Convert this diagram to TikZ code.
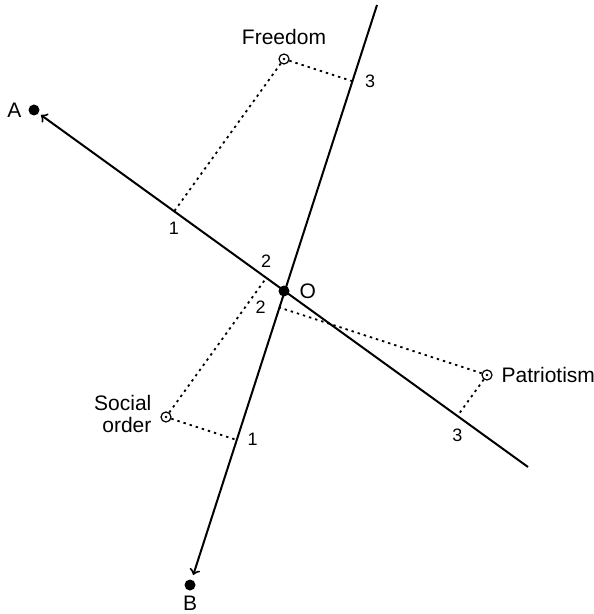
\documentclass[tikz,border=0pt]{standalone}
\usepackage{fontspec}
\setmainfont{Liberation Sans}
\usetikzlibrary{calc, positioning}

\begin{document}
\begin{tikzpicture}[x=0.5pt, y=-0.5pt, line width=1pt,
  font=\fontsize{10.5}{11}\selectfont,
  dot/.style={circle, fill, inner sep=0pt, minimum size=5.5pt},
  item/.style={circle, draw, line width=0.6pt, inner sep=0pt, minimum size=5pt,
    path picture={\fill (path picture bounding box.center) circle (0.7pt);}},
  lab/.style={inner sep=0pt},
  num/.style={inner sep=0pt, font=\fontsize{9}{10}\selectfont},
  proj/.style={line width=0.9pt, dash pattern=on 1.2pt off 2pt}]
  \useasboundingbox (0,0) rectangle (593,614);
  % axes
  \node[dot] (O) at (284,291) {};
  \node[dot] (A) at (34,110) {};
  \node[dot] (B) at (190,585) {};
  \coordinate (Ae) at (528,467);
  \coordinate (Be) at (377,5);
  \draw[->, shorten >=1pt] (Ae) -- (A);
  \draw[->, shorten >=2pt] (Be) -- (B);
  \node[lab, left=2.5pt of A] (Alab) {A};
  \node[lab, below=2pt of B] (Blab) {B};
  \node[lab, right=4pt of O] (Olab) {O};
  % items
  \node[item] (free) at (284,59) {};
  \node[item] (patr) at (487,375) {};
  \node[item] (soc) at (166,417) {};
  \node[lab, above=4pt of free] (freelab) {Freedom};
  \node[lab, right=4pt of patr] (patrlab) {Patriotism};
  \node[lab, left=4pt of soc, yshift=1.75pt, align=right] (soclab) {Social\\order};
  % projections
  \coordinate (freeA) at ($(O)!(free)!(Ae)$);
  \coordinate (freeB) at ($(O)!(free)!(Be)$);
  \coordinate (patrA) at ($(O)!(patr)!(Ae)$);
  \coordinate (patrB) at ($(O)!(patr)!(Be)$);
  \coordinate (socA) at ($(O)!(soc)!(Ae)$);
  \coordinate (socB) at ($(O)!(soc)!(Be)$);
  \draw[proj] (free) -- (freeA);
  \draw[proj] (free) -- (freeB);
  \draw[proj] (patr) -- (patrA);
  \draw[proj] (patr) -- (patrB);
  \draw[proj] (soc) -- (socA);
  \draw[proj] (soc) -- (socB);
  \node[num, below=5pt of freeA] (freeAn) {1};
  \node[num, right=6pt of freeB] (freeBn) {3};
  \node[num, below=6pt of patrA] (patrAn) {3};
  \node[num, left=6pt of patrB] (patrBn) {2};
  \node[num, above=4.8pt of socA] (socAn) {2};
  \node[num, right=5.5pt of socB] (socBn) {1};
\end{tikzpicture}
\end{document}
